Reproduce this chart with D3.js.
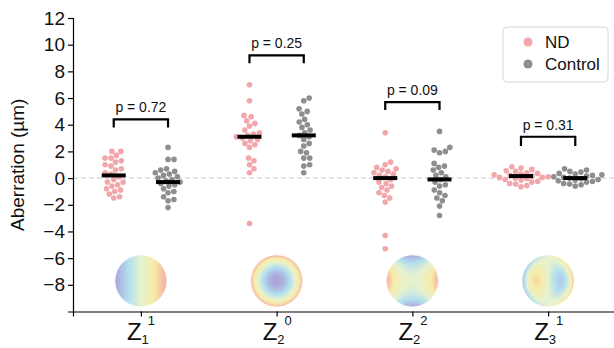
<!DOCTYPE html>
<html>
<head>
<meta charset="utf-8">
<script src="https://cdn.jsdelivr.net/npm/d3@7"></script>
<style>
  body { margin: 0; background: #fff; }
  svg { display: block; font-family: "Liberation Sans", Arial, Helvetica, sans-serif; }
</style>
</head>
<body>
<div id="chart"></div>
<script>
// categories (Zernike terms): [base, subscript, superscript]
const terms = [['Z', '1', '1'], ['Z', '2', '0'], ['Z', '2', '2'], ['Z', '3', '1']];
const groups = ['ND', 'Control'];

// aberration values (µm)
const nd1 = [2.0, 2.0, 1.7, 1.5, 1.5, 1.3, 1.2, 1.0, 0.9, 0.7, 0.6, 0.4, 0.3, 0.1, -0.1, -0.3, -0.3, -0.5, -0.6, -0.8, -0.9, -1.0, -1.2, -1.4, -1.5];
const ctl1 = [2.3, 1.4, 1.4, 0.7, 0.6, 0.5, 0.4, 0.3, 0.2, 0.1, 0.0, -0.1, -0.2, -0.3, -0.4, -0.5, -0.6, -0.8, -1.0, -1.1, -1.4, -1.6, -1.7, -2.2];
const nd2 = [7.0, 5.8, 4.7, 4.6, 4.3, 4.1, 3.9, 3.6, 3.4, 3.3, 3.2, 3.1, 3.0, 2.9, 2.8, 2.6, 2.5, 2.3, 1.5, 1.3, 1.0, 0.7, 0.4, -3.4];
const ctl2 = [6.0, 5.8, 5.2, 5.0, 4.8, 4.4, 4.2, 4.0, 3.8, 3.6, 3.4, 3.2, 3.1, 2.9, 2.6, 2.4, 2.0, 1.9, 1.5, 1.5, 1.0, 0.9, 0.4];
const nd3 = [3.4, 1.2, 1.0, 0.8, 0.7, 0.6, 0.5, 0.4, 0.3, 0.2, 0.1, -0.1, -0.3, -0.4, -0.6, -0.7, -0.9, -1.1, -1.3, -1.5, -1.8, -4.3, -5.3];
const ctl3 = [3.5, 2.3, 2.1, 2.0, 1.9, 1.1, 0.9, 0.8, 0.6, 0.4, 0.2, 0.1, -0.1, -0.3, -0.5, -0.6, -0.9, -1.1, -1.3, -1.5, -1.7, -2.1, -2.8];
const nd4 = [0.85, 0.75, 0.65, 0.55, 0.5, 0.4, 0.35, 0.3, 0.25, 0.2, 0.15, 0.1, 0.05, 0.05, 0.0, -0.05, -0.1, -0.15, -0.25, -0.3, -0.4, -0.45, -0.55, -0.65];
const ctl4 = [0.7, 0.6, 0.5, 0.45, 0.35, 0.3, 0.25, 0.2, 0.15, 0.1, 0.05, 0.0, -0.05, -0.1, -0.15, -0.2, -0.25, -0.3, -0.4, -0.45, -0.5, -0.6];
const ndValues = [nd1, nd2, nd3, nd4];
const ctlValues = [ctl1, ctl2, ctl3, ctl4];

// mean bars
const ndMeans = [0.2, 3.1, 0.0, 0.15];
const ctlMeans = [-0.3, 3.2, -0.1, 0.0];

// significance brackets
const pLabels = ['p = 0.72', 'p = 0.25', 'p = 0.09', 'p = 0.31'];
const bracketTop = [4.4, 9.2, 5.7, 3.1];
const bracketLeg = [3.8, 8.6, 5.1, 2.4];

const yTicks = [12, 10, 8, 6, 4, 2, 0, -2, -4, -6, -8];
const imageLevel = -7.7;

const width = 614;
const height = 348;
const colors = { ND: '#f2a6aa', Control: '#8e8e8e' };

const svg = d3.select('#chart')
  .append('svg')
  .attr('width', width)
  .attr('height', height);

const x = d3.scaleLinear().domain([-0.5, 3.5]).range([73, 616]);
const y = d3.scaleLinear().domain([-10, 12]).range([311.5, 18]);
const offset = 0.2; // group offset in category units

// zero reference line
svg.append('line')
  .attr('x1', x(-0.5)).attr('x2', width)
  .attr('y1', y(0)).attr('y2', y(0))
  .attr('stroke', '#d4d4d4')
  .attr('stroke-width', 1.2)
  .attr('stroke-dasharray', '5,3');

// y axis
const yAxis = svg.append('g')
  .attr('transform', `translate(${x(-0.5)},0)`)
  .call(d3.axisLeft(y).tickValues(yTicks).tickSize(5).tickPadding(3)
    .tickFormat(d => d < 0 ? '\u2212' + Math.abs(d) : d));
yAxis.select('.domain').attr('stroke', '#000').attr('stroke-width', 1.2);
yAxis.selectAll('.tick line').attr('stroke', '#000').attr('stroke-width', 1.2);
yAxis.selectAll('.tick text')
  .attr('fill', '#111')
  .style('font-size', '19px')
  .style('font-family', '"Liberation Sans", Arial, sans-serif');

svg.append('text')
  .attr('transform', `translate(24,${(y(12) + y(-10)) / 2}) rotate(-90)`)
  .attr('text-anchor', 'middle')
  .attr('fill', '#111')
  .style('font-size', '19px')
  .text('Aberration (\u00b5m)');

// x axis
const xAxis = svg.append('g')
  .attr('transform', `translate(0,${y(-10)})`)
  .call(d3.axisBottom(x).tickValues([0, 1, 2, 3]).tickSize(5).tickFormat(''));
xAxis.select('.domain').attr('stroke', '#000').attr('stroke-width', 1.2);
xAxis.selectAll('.tick line').attr('stroke', '#000').attr('stroke-width', 1.2);

const xLabels = svg.append('g').selectAll('text')
  .data(terms)
  .enter()
  .append('text')
  .attr('x', (d, i) => x(i) - 14)
  .attr('y', 340)
  .attr('fill', '#111')
  .style('font-size', '24px');
xLabels.append('tspan').text(d => d[0]);
xLabels.append('tspan').attr('dy', 4).style('font-size', '13px').text(d => d[1]);
xLabels.append('tspan').attr('dx', 0).attr('dy', -19).style('font-size', '13px').text(d => d[2]);

// Zernike surface thumbnails
const zernike = [
  (r, t) => r * Math.cos(t),
  (r, t) => 2 * r * r - 1,
  (r, t) => r * r * Math.cos(2 * t),
  (r, t) => (3 * r * r * r - 2 * r) * Math.cos(t),
];
const cmap = d3.scaleLinear()
  .domain([-1, -0.5, 0, 0.5, 1])
  .range(['#ada3d8', '#b0def0', '#e6f2cf', '#f8eca8', '#f3aba2'])
  .interpolate(d3.interpolateRgb);

const imgR = 26;
function zernikeImage(fn) {
  const size = imgR * 2;
  const canvas = document.createElement('canvas');
  canvas.width = size;
  canvas.height = size;
  const ctx = canvas.getContext('2d');
  const img = ctx.createImageData(size, size);
  for (let j = 0; j < size; j++) {
    for (let i = 0; i < size; i++) {
      const px = (i + 0.5 - imgR) / imgR;
      const py = (imgR - j - 0.5) / imgR;
      const r = Math.sqrt(px * px + py * py);
      const k = (j * size + i) * 4;
      if (r > 1) { img.data[k + 3] = 0; continue; }
      const c = d3.rgb(cmap(Math.max(-1, Math.min(1, fn(r, Math.atan2(py, px))))));
      img.data[k] = c.r;
      img.data[k + 1] = c.g;
      img.data[k + 2] = c.b;
      img.data[k + 3] = r > 0.97 ? Math.round(255 * (1 - r) / 0.03) : 255;
    }
  }
  ctx.putImageData(img, 0, 0);
  return canvas.toDataURL();
}

svg.append('g').selectAll('image')
  .data(zernike)
  .enter()
  .append('image')
  .attr('x', (d, i) => x(i) - imgR)
  .attr('y', y(imageLevel) - imgR)
  .attr('width', imgR * 2)
  .attr('height', imgR * 2)
  .attr('href', d => zernikeImage(d));

// beeswarm layout
const dotR = 2.8;
function swarm(values, cx) {
  const placed = [];
  const sorted = values.slice().sort((a, b) => a - b);
  const dmin = dotR * 2 + 0.4;
  sorted.forEach(v => {
    const py = y(v);
    const cands = [cx];
    placed.forEach(p => {
      const dy = Math.abs(p.y - py);
      if (dy < dmin) {
        const dx = Math.sqrt(dmin * dmin - dy * dy);
        cands.push(p.x + dx, p.x - dx);
      }
    });
    cands.sort((a, b) => Math.abs(a - cx) - Math.abs(b - cx));
    const best = cands.find(c => placed.every(p => (p.x - c) ** 2 + (p.y - py) ** 2 >= dmin * dmin - 0.01));
    placed.push({ x: best, y: py, v });
  });
  return placed;
}

const dotLayer = svg.append('g');
[ndValues, ctlValues].forEach((series, gi) => {
  const name = groups[gi];
  series.forEach((vals, ci) => {
    const cx = x(ci + (gi === 0 ? -offset : offset));
    dotLayer.append('g').selectAll('circle')
      .data(swarm(vals, cx))
      .enter()
      .append('circle')
      .attr('cx', d => d.x)
      .attr('cy', d => d.y)
      .attr('r', dotR)
      .attr('fill', colors[name]);
  });
});

// mean bars
const meanLayer = svg.append('g');
[ndMeans, ctlMeans].forEach((means, gi) => {
  meanLayer.selectAll(null)
    .data(means)
    .enter()
    .append('line')
    .attr('x1', (d, i) => x(i + (gi === 0 ? -offset : offset)) - 12)
    .attr('x2', (d, i) => x(i + (gi === 0 ? -offset : offset)) + 12)
    .attr('y1', d => y(d))
    .attr('y2', d => y(d))
    .attr('stroke', '#000')
    .attr('stroke-width', 4);
});

// brackets with p values
const brackets = svg.append('g').selectAll('g')
  .data(pLabels)
  .enter()
  .append('g');
brackets.append('path')
  .attr('d', (d, i) => {
    const x0 = x(i - offset), x1 = x(i + offset);
    return `M${x0},${y(bracketLeg[i])}V${y(bracketTop[i])}H${x1}V${y(bracketLeg[i])}`;
  })
  .attr('fill', 'none')
  .attr('stroke', '#000')
  .attr('stroke-width', 2.2);
brackets.append('text')
  .attr('x', (d, i) => x(i))
  .attr('y', (d, i) => y(bracketTop[i]) - 7)
  .attr('text-anchor', 'middle')
  .attr('fill', '#111')
  .style('font-size', '14px')
  .text(d => d);

// legend
const legend = svg.append('g').attr('transform', 'translate(503,27)');
legend.append('rect')
  .attr('width', 105)
  .attr('height', 55)
  .attr('rx', 4)
  .attr('fill', '#fff')
  .attr('stroke', '#d6d6d6')
  .attr('stroke-width', 1);
const items = legend.selectAll('g.item')
  .data(groups)
  .enter()
  .append('g')
  .attr('class', 'item')
  .attr('transform', (d, i) => `translate(0,${15 + i * 22})`);
items.append('circle')
  .attr('cx', 25)
  .attr('r', 4.5)
  .attr('fill', d => colors[d]);
items.append('text')
  .attr('x', 42)
  .attr('y', 6)
  .attr('fill', '#111')
  .style('font-size', '17px')
  .text(d => d);
</script>
</body>
</html>
